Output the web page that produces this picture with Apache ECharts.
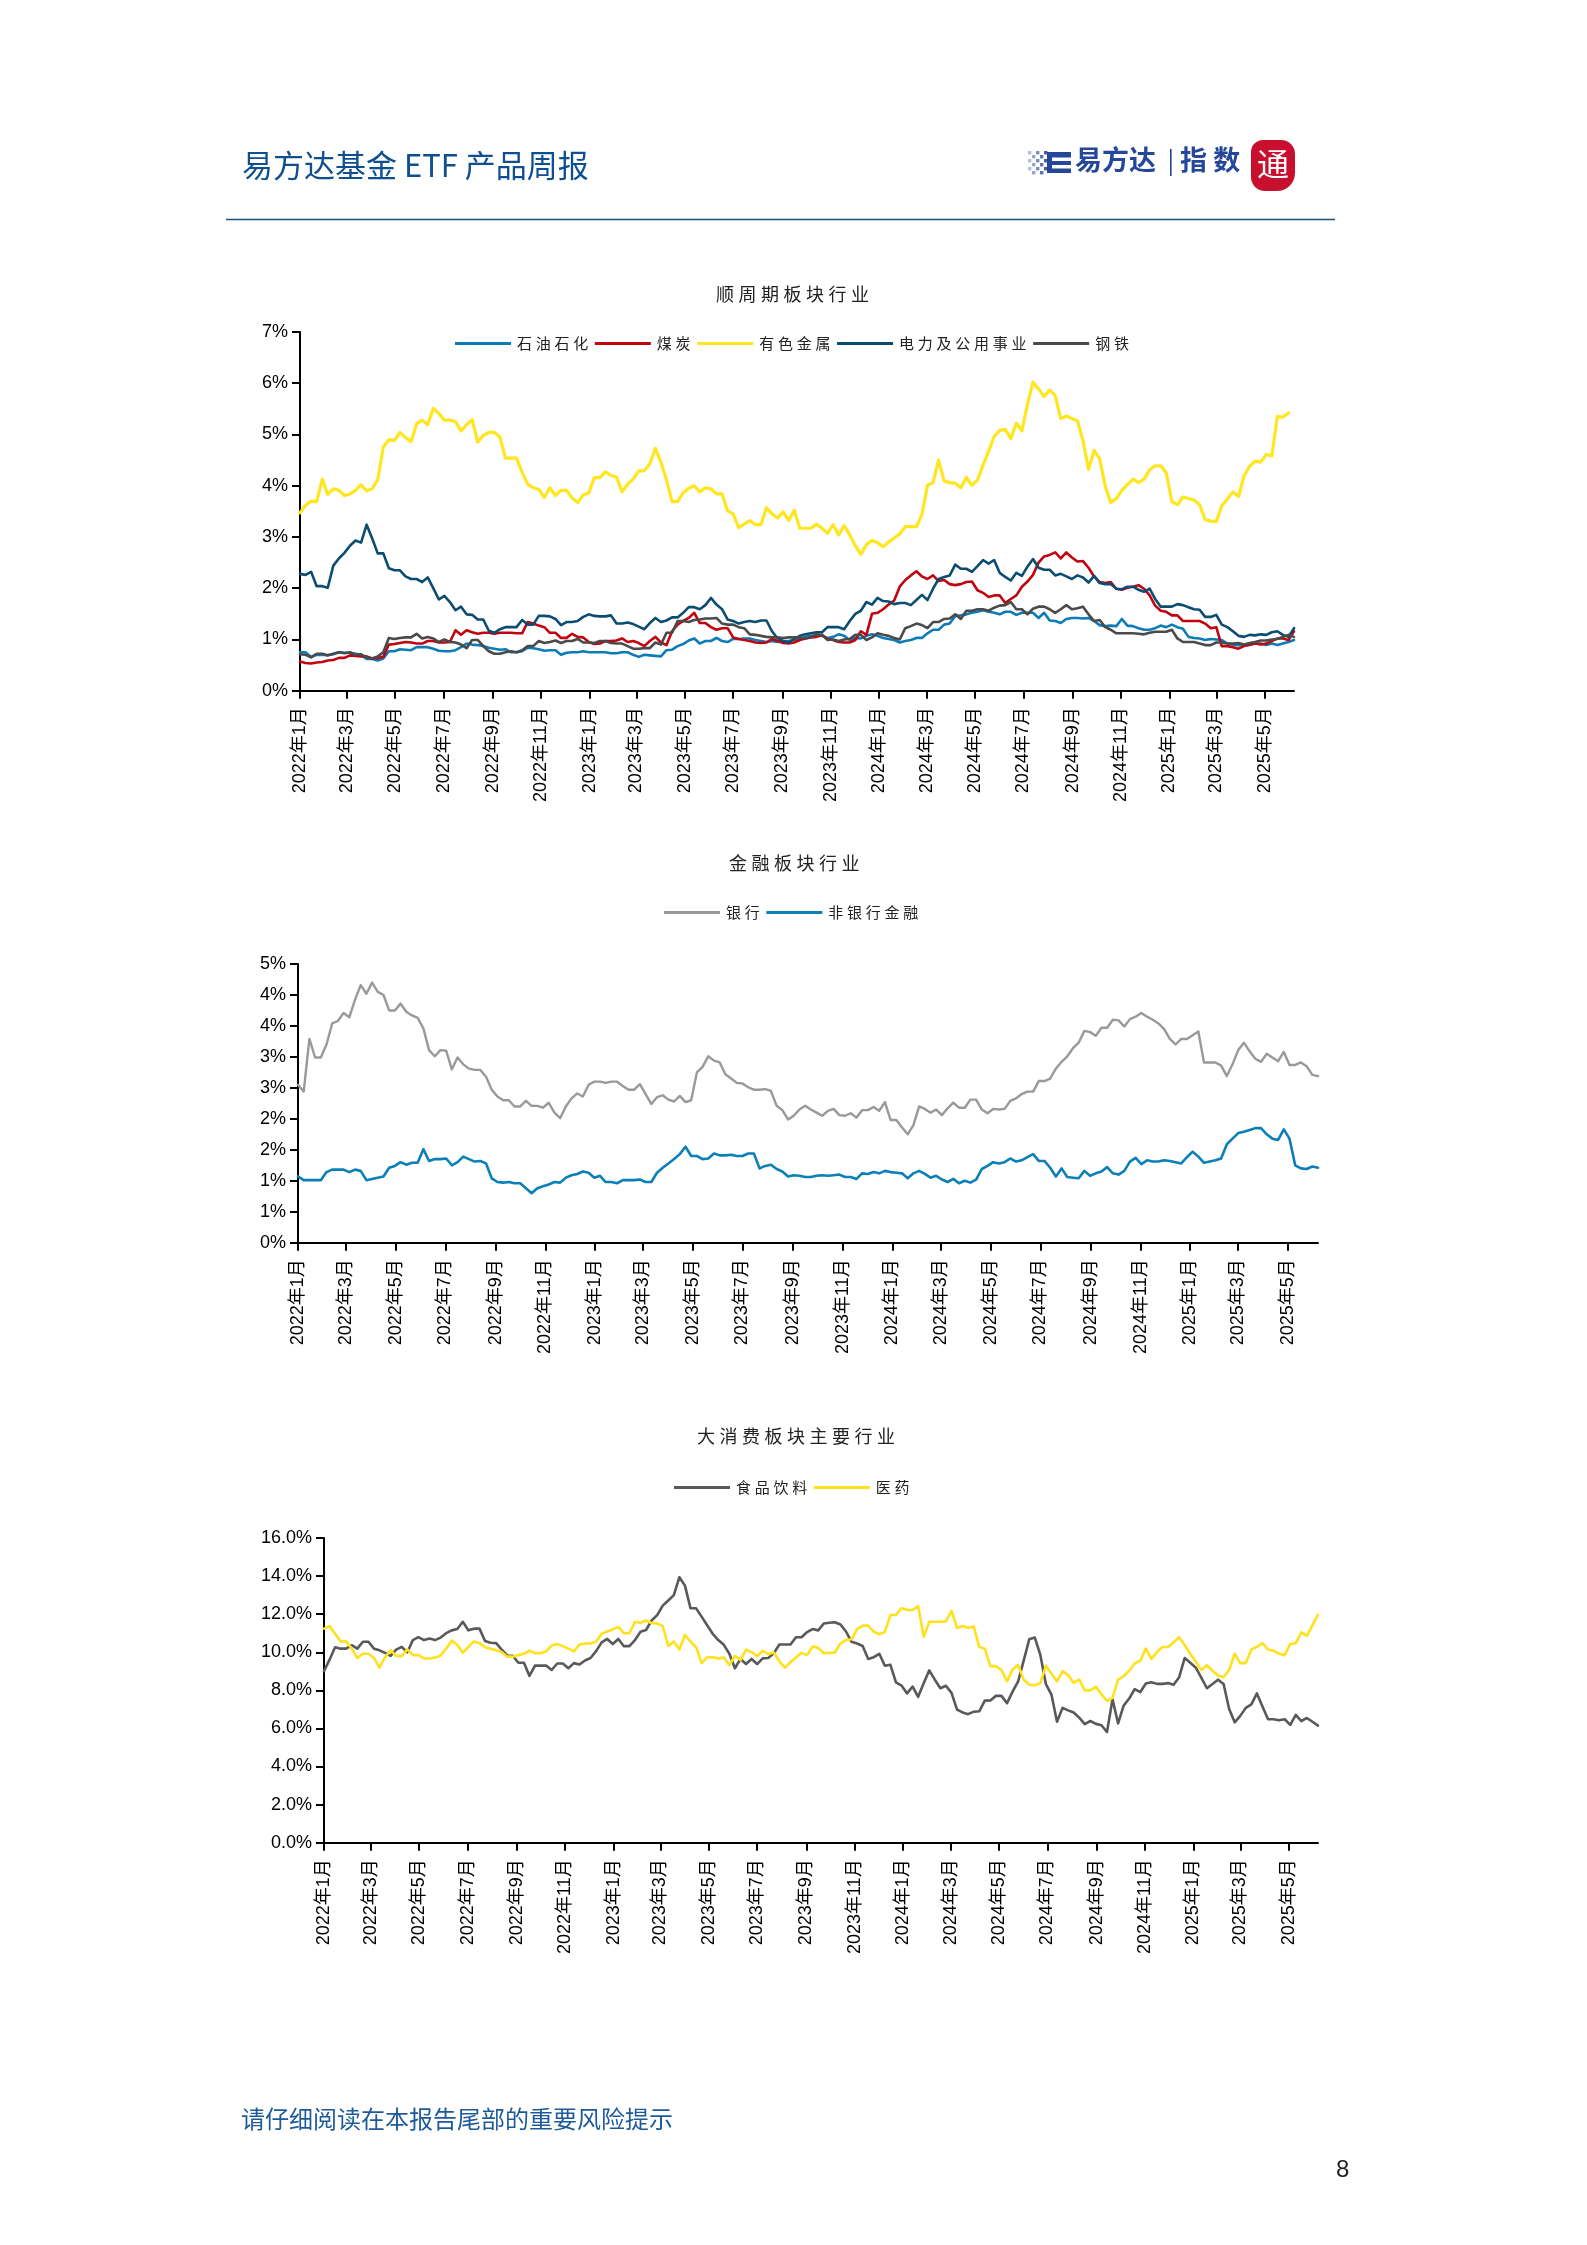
<!DOCTYPE html>
<html>
<head>
<meta charset="utf-8">
<style>html,body{margin:0;padding:0;background:#fff}#c{width:1587px;height:2245px}</style>
<script src="https://cdn.jsdelivr.net/npm/echarts@6/dist/echarts.min.js"></script>
</head>
<body>
<div id="c"></div>
<script>
const tickMonths = [[2022,1],[2022,3],[2022,5],[2022,7],[2022,9],[2022,11],[2023,1],[2023,3],[2023,5],[2023,7],[2023,9],[2023,11],[2024,1],[2024,3],[2024,5],[2024,7],[2024,9],[2024,11],[2025,1],[2025,3],[2025,5]];

const oil = [.75,.75,.66,.70,.70,.69,.71,.75,.74,.74,.72,.70,.62,.62,.59,.63,.77,.77,.81,.80,.79,.85,.85,.85,.82,.78,.77,.77,.79,.85,.92,.90,.89,.87,.84,.82,.80,.81,.75,.75,.77,.84,.83,.81,.78,.79,.79,.70,.74,.75,.75,.77,.75,.75,.75,.75,.73,.73,.75,.75,.70,.66,.70,.69,.68,.67,.79,.80,.87,.91,.98,1.02,.92,.97,.97,1.03,.97,.95,1.01,1.01,
1.02,1.02,.99,.97,.95,.97,.95,.97,.97,.99,1.02,1.05,1.07,1.07,1.07,1.03,1.05,1.10,1.07,.99,1.03,1.02,1.07,1.10,1.07,1.03,1.01,.99,.94,.97,.99,1.03,1.03,1.12,1.19,1.19,1.29,1.31,1.46,1.47,1.49,1.52,1.54,1.57,1.54,1.52,1.49,1.54,1.54,1.48,1.52,1.52,1.52,1.42,1.52,1.37,1.36,1.32,1.40,1.42,1.42,1.41,1.42,1.36,1.28,1.26,1.27,1.26,1.40,1.27,1.26,1.22,1.19,1.19,1.22,1.27,1.24,1.29,1.24,1.21,1.05,1.03,1.02,.99,1.01,1.00,.99,.92,.90,.89,.89,.89,.92,.92,.89,.92,.89,.92,.95,.99];

const coal = [.57,.54,.53,.55,.56,.59,.60,.64,.64,.69,.68,.67,.67,.63,.64,.66,.90,.91,.93,.95,.94,.92,.92,.97,.97,.94,.94,.95,1.18,1.09,1.18,1.14,1.11,1.13,1.13,1.11,1.13,1.13,1.13,1.12,1.12,1.34,1.31,1.27,1.24,1.13,1.13,1.03,1.03,1.11,1.05,1.04,.95,.91,.92,.97,.97,.98,1.02,.95,.97,.93,.87,.97,1.05,.94,.89,1.16,1.29,1.36,1.42,1.52,1.32,1.32,1.24,1.19,1.22,1.22,1.04,1.01,
.99,.97,.94,.93,.94,1.01,.97,.93,.92,.94,.99,1.02,1.04,1.05,1.09,1.01,.99,.95,.94,.94,.99,1.16,1.09,1.50,1.52,1.59,1.68,1.76,2.03,2.16,2.25,2.33,2.23,2.18,2.25,2.14,2.16,2.08,2.06,2.08,2.12,2.13,1.96,1.91,1.83,1.86,1.86,1.71,1.79,1.86,2.03,2.13,2.26,2.50,2.62,2.65,2.70,2.58,2.70,2.60,2.52,2.53,2.40,2.23,2.12,2.10,2.12,1.99,1.97,2.01,2.03,2.06,1.99,1.86,1.66,1.56,1.54,1.47,1.47,1.36,1.36,1.36,1.36,1.31,1.22,1.24,.87,.87,.85,.82,.87,.90,.92,.90,.92,.97,1.02,1.02,.99,1.16];

const metals = [3.47,3.62,3.70,3.69,4.13,3.83,3.94,3.91,3.81,3.84,3.91,4.02,3.90,3.94,4.12,4.75,4.90,4.88,5.04,4.94,4.86,5.21,5.28,5.19,5.51,5.41,5.28,5.28,5.25,5.07,5.19,5.29,4.85,4.98,5.04,5.04,4.95,4.54,4.54,4.54,4.26,4.03,3.96,3.93,3.77,3.96,3.81,3.91,3.91,3.76,3.67,3.82,3.86,4.16,4.16,4.27,4.20,4.17,3.88,4.03,4.13,4.29,4.29,4.43,4.73,4.46,4.11,3.69,3.69,3.86,3.95,4.00,3.88,3.96,3.94,3.84,3.84,3.51,3.45,3.18,
3.25,3.32,3.24,3.24,3.57,3.45,3.37,3.49,3.32,3.52,3.17,3.17,3.17,3.25,3.17,3.07,3.24,3.04,3.22,3.04,2.83,2.66,2.85,2.93,2.89,2.81,2.90,2.98,3.06,3.20,3.20,3.20,3.44,4.01,4.06,4.50,4.09,4.06,4.05,3.96,4.16,4.01,4.11,4.40,4.67,4.96,5.08,5.10,4.92,5.22,5.07,5.59,6.02,5.89,5.74,5.87,5.76,5.31,5.36,5.31,5.27,4.88,4.32,4.69,4.53,3.99,3.67,3.75,3.91,4.02,4.13,4.06,4.13,4.31,4.39,4.39,4.25,3.69,3.63,3.78,3.75,3.72,3.63,3.34,3.31,3.30,3.61,3.74,3.88,3.79,4.19,4.38,4.48,4.46,4.61,4.58,5.35,5.34,5.42,null];

const power = [2.28,2.26,2.32,2.04,2.04,2.01,2.44,2.58,2.69,2.83,2.93,2.89,3.24,2.97,2.68,2.68,2.39,2.35,2.35,2.23,2.18,2.18,2.12,2.21,2.00,1.78,1.85,1.73,1.57,1.64,1.49,1.48,1.39,1.39,1.17,1.13,1.20,1.24,1.24,1.24,1.38,1.29,1.29,1.46,1.46,1.45,1.40,1.28,1.34,1.34,1.36,1.44,1.49,1.46,1.45,1.45,1.47,1.31,1.31,1.33,1.30,1.25,1.20,1.32,1.42,1.34,1.37,1.43,1.43,1.52,1.63,1.63,1.59,1.67,1.81,1.68,1.59,1.39,1.36,1.31,
1.34,1.36,1.34,1.37,1.37,1.16,1.02,.97,.94,1.01,1.07,1.10,1.12,1.14,1.14,1.24,1.24,1.24,1.20,1.36,1.50,1.56,1.73,1.68,1.81,1.75,1.74,1.69,1.71,1.71,1.67,1.77,1.87,1.77,1.99,2.18,2.22,2.25,2.46,2.38,2.38,2.32,2.43,2.55,2.48,2.55,2.30,2.22,2.15,2.30,2.24,2.42,2.57,2.40,2.36,2.36,2.25,2.28,2.23,2.18,2.25,2.21,2.11,2.24,2.10,2.08,2.08,1.99,1.98,2.03,2.03,1.97,1.93,1.99,1.79,1.64,1.64,1.64,1.69,1.67,1.63,1.59,1.58,1.44,1.44,1.48,1.29,1.24,1.16,1.07,1.05,1.09,1.08,1.10,1.09,1.14,1.16,1.09,1.05,1.22];

const steel = [.71,.70,.65,.72,.72,.69,.72,.75,.73,.75,.70,.71,.65,.63,.67,.75,1.03,1.01,1.03,1.04,1.04,1.11,1.02,1.05,1.02,.95,1.00,.95,.94,.90,.83,.99,.99,.87,.77,.72,.72,.75,.77,.75,.79,.87,.87,.97,.93,.95,.98,.93,.97,.97,1.01,.94,.94,.93,.97,.97,.93,.92,.92,.87,.82,.82,.83,.83,.94,.90,1.13,1.13,1.36,1.36,1.34,1.38,1.39,1.41,1.41,1.42,1.31,1.29,1.29,1.24,
1.22,1.10,1.09,1.07,1.05,1.04,1.04,1.03,1.04,1.04,1.04,1.02,1.05,1.10,1.09,.99,1.00,.97,1.00,1.01,1.09,1.09,.99,1.04,1.12,1.09,1.07,1.03,1.00,1.22,1.26,1.31,1.28,1.22,1.34,1.34,1.40,1.41,1.49,1.40,1.56,1.56,1.59,1.59,1.56,1.62,1.66,1.67,1.73,1.59,1.59,1.49,1.60,1.64,1.64,1.59,1.52,1.59,1.67,1.59,1.61,1.64,1.49,1.36,1.38,1.24,1.19,1.12,1.12,1.12,1.12,1.11,1.10,1.13,1.15,1.15,1.15,1.19,1.02,.95,.95,.95,.92,.89,.89,.94,.94,.92,.92,.93,.90,.93,.95,.98,.98,1.00,1.01,1.05,1.09,1.05];

const bank = [2.55,2.44,3.29,2.99,2.99,3.20,3.54,3.58,3.71,3.64,3.92,4.16,4.02,4.20,4.05,4.00,3.75,3.75,3.86,3.73,3.67,3.63,3.46,3.11,3.01,3.11,3.10,2.80,2.99,2.88,2.81,2.79,2.79,2.68,2.47,2.36,2.30,2.30,2.20,2.20,2.29,2.21,2.21,2.18,2.26,2.10,2.01,2.20,2.33,2.41,2.36,2.55,2.60,2.60,2.58,2.60,2.60,2.53,2.47,2.47,2.56,2.40,2.24,2.35,2.38,2.31,2.28,2.37,2.27,2.30,2.75,2.84,3.01,2.94,2.91,2.72,2.65,2.58,2.57,2.51,2.47,2.47,2.48,2.45,2.21,
2.14,1.99,2.05,2.15,2.21,2.15,2.10,2.05,2.13,2.16,2.06,2.05,2.09,2.02,2.14,2.14,2.19,2.13,2.27,1.98,1.98,1.86,1.75,1.90,2.20,2.16,2.10,2.15,2.06,2.17,2.26,2.18,2.18,2.31,2.31,2.15,2.09,2.16,2.15,2.16,2.29,2.33,2.40,2.44,2.44,2.61,2.61,2.65,2.81,2.92,3.01,3.14,3.23,3.42,3.40,3.34,3.47,3.47,3.60,3.59,3.49,3.61,3.65,3.71,3.65,3.60,3.54,3.45,3.29,3.20,3.29,3.29,3.35,3.41,2.91,2.91,2.91,2.86,2.69,2.88,3.11,3.23,3.09,2.97,2.92,3.05,2.99,2.93,3.08,2.87,2.87,2.91,2.85,2.71,2.69];

const nonBank = [1.07,1.01,1.01,1.01,1.01,1.14,1.18,1.18,1.18,1.14,1.18,1.16,1.01,1.03,1.05,1.07,1.21,1.24,1.30,1.26,1.29,1.29,1.51,1.32,1.35,1.35,1.36,1.25,1.30,1.39,1.35,1.31,1.32,1.28,1.04,.98,.97,.98,.96,.96,.88,.80,.88,.91,.94,.98,.97,1.05,1.09,1.11,1.15,1.13,1.05,1.08,.98,.98,.96,1.01,1.01,1.01,1.02,.98,.98,1.13,1.21,1.28,1.35,1.43,1.55,1.40,1.40,1.35,1.36,1.44,1.41,1.41,1.42,1.40,1.40,1.44,1.44,1.20,1.24,1.26,1.19,
1.15,1.07,1.09,1.08,1.06,1.06,1.08,1.09,1.08,1.09,1.10,1.06,1.06,1.03,1.12,1.11,1.14,1.12,1.16,1.14,1.13,1.12,1.04,1.12,1.16,1.11,1.05,1.08,1.02,.98,1.03,.96,1.00,.97,1.02,1.19,1.24,1.30,1.28,1.30,1.36,1.31,1.33,1.38,1.43,1.32,1.32,1.21,1.07,1.20,1.06,1.05,1.04,1.16,1.08,1.12,1.15,1.22,1.12,1.10,1.16,1.31,1.37,1.27,1.33,1.31,1.31,1.33,1.32,1.30,1.28,1.38,1.47,1.39,1.29,1.31,1.33,1.36,1.59,1.68,1.77,1.79,1.82,1.85,1.85,1.75,1.68,1.66,1.83,1.68,1.25,1.20,1.19,1.23,1.21];

const food = [9.01,9.61,10.26,10.19,10.19,10.37,10.19,10.55,10.55,10.19,10.10,9.97,9.81,10.14,10.28,9.99,10.64,10.79,10.64,10.72,10.64,10.77,11.00,11.15,11.22,11.60,11.15,11.24,11.24,10.59,10.50,10.48,10.14,9.83,9.81,9.45,9.45,8.76,9.30,9.30,9.30,9.07,9.41,9.41,9.16,9.43,9.36,9.57,9.70,10.06,10.52,10.70,10.43,10.70,10.32,10.32,10.64,11.08,11.17,11.67,11.95,12.45,12.72,13.0,13.94,13.5,12.31,12.31,11.87,11.42,10.97,10.64,10.39,9.92,9.16,9.65,9.38,9.65,9.38,9.68,9.70,9.95,10.41,
10.41,10.41,10.79,10.79,11.06,11.22,11.15,11.51,11.55,11.58,11.46,11.09,10.55,10.46,10.33,9.65,9.74,9.92,9.29,9.34,8.42,8.25,7.84,8.20,7.66,8.38,9.05,8.56,8.11,8.24,7.87,6.99,6.84,6.75,6.88,6.90,7.46,7.47,7.71,7.71,7.33,7.93,8.47,9.56,10.68,10.77,9.86,8.33,7.78,6.35,7.08,6.95,6.84,6.57,6.23,6.39,6.24,6.17,5.81,7.53,6.26,7.20,7.57,8.07,7.91,8.36,8.43,8.34,8.34,8.38,8.29,8.69,9.70,9.45,9.19,8.65,8.11,8.33,8.56,8.33,7.02,6.32,6.66,7.08,7.26,7.84,7.15,6.48,6.48,6.43,6.48,6.19,6.71,6.39,6.55,6.35,6.15];

const pharma = [11.24,11.37,10.97,10.57,10.57,10.19,9.70,9.92,9.92,9.70,9.19,9.74,10.10,9.81,9.79,10.15,9.85,9.85,9.68,9.67,9.72,9.83,10.19,10.61,10.39,9.97,10.28,10.57,10.48,10.26,10.19,10.10,10.01,9.77,9.77,9.85,9.92,10.08,9.95,9.95,10.05,10.35,10.44,10.32,10.19,10.05,10.41,10.46,10.46,10.55,10.97,11.09,11.20,11.33,11.00,11.00,11.60,11.55,11.67,11.53,11.51,11.37,10.33,10.57,10.14,10.91,10.55,10.28,9.43,9.74,9.74,9.68,9.72,9.32,9.81,9.59,10.14,10.01,9.79,10.08,9.90,9.99,9.52,
9.19,9.47,9.72,9.97,9.85,10.30,10.23,9.95,9.97,9.99,10.46,10.64,10.68,11.22,11.40,11.40,11.08,10.95,11.06,11.96,11.96,12.31,12.22,12.22,12.42,10.81,11.60,11.60,11.60,11.62,12.18,11.28,11.38,11.28,11.35,10.28,10.19,9.27,9.27,9.07,8.47,9.10,9.34,8.56,8.29,8.27,8.38,9.30,8.87,8.47,9.01,8.80,8.40,8.56,8.00,8.00,8.20,7.80,7.44,7.60,8.56,8.74,9.03,9.41,9.56,10.19,9.65,10.01,10.28,10.28,10.53,10.79,10.37,9.92,9.50,9.07,9.32,9.03,8.78,8.69,9.07,9.92,9.43,9.43,10.15,10.28,10.48,10.14,10.08,9.92,9.85,10.43,10.48,11.04,10.86,11.42,11.96];

/* weekly dates as timestamps on a date-scaled axis */
const DAY = 86400000, startDate = Date.UTC(2022,0,1);
const xMax = startDate + 179*7*DAY;
const pairs = arr => arr.map((v,i)=>[startDate + i*7*DAY, v]);
const tickVals = tickMonths.map(([y,m])=>Date.UTC(y,m-1,1));
const tickLabel = v => { const d = new Date(v); return d.getUTCFullYear()+'年'+(d.getUTCMonth()+1)+'月'; };
const LATIN = '"Liberation Sans","Noto Sans CJK SC",sans-serif';
const CJK = '"Noto Sans CJK SC",sans-serif';
const spaced = s => [...s].join('\u2005');

const panels = [
 {left:300,top:332,width:994,height:358.7,max:7,interval:1,fmt:v=>v.toFixed(0)+'%'},
 {left:298,top:964,width:1020,height:278.7,max:4.5,interval:.5,fmt:v=>Math.round(v+1e-9)+'%'},
 {left:324,top:1538,width:994,height:304.7,max:16,interval:2,fmt:v=>v.toFixed(1)+'%'}
];
const grid=[],xAxis=[],yAxis=[];
panels.forEach((p,i)=>{
  grid.push({left:p.left,top:p.top,width:p.width,height:p.height,containLabel:false});
  xAxis.push({type:'value',gridIndex:i,min:startDate,max:xMax,scale:true,
    splitLine:{show:false},
    axisLine:{show:true,onZero:false,lineStyle:{color:'#000',width:2}},
    axisTick:{show:true,length:8,inside:false,customValues:tickVals,lineStyle:{color:'#000',width:2}},
    axisLabel:{show:true,rotate:90,margin:16.5,customValues:tickVals,formatter:tickLabel,hideOverlap:false,
      fontFamily:LATIN,fontSize:18,color:'#000',showMinLabel:true,showMaxLabel:true}
  });
  yAxis.push({type:'value',gridIndex:i,min:0,max:p.max,interval:p.interval,
    splitLine:{show:false},
    axisLine:{show:true,onZero:false,lineStyle:{color:'#000',width:2}},
    axisTick:{show:true,length:8,inside:false,lineStyle:{color:'#000',width:2}},
    axisLabel:{margin:12,formatter:p.fmt,fontFamily:LATIN,fontSize:18,color:'#000'}
  });
});

const line = (name,data,idx,color,w) => ({name,type:'line',data:pairs(data),xAxisIndex:idx,yAxisIndex:idx,
  showSymbol:false,symbol:'none',smooth:false,animation:false,connectNulls:false,clip:false,
  lineStyle:{color,width:w,cap:'round',join:'round'},itemStyle:{color}});

const series = [
 line('石油石化',oil,0,'#0c7cb8',2.6),
 line('煤炭',coal,0,'#c00510',2.6),
 line('有色金属',metals,0,'#ffe61e',3.2),
 line('电力及公用事业',power,0,'#0b4d70',2.6),
 line('钢铁',steel,0,'#4a4a4a',2.6),
 line('银行',bank,1,'#999999',2.4),
 line('非银行金融',nonBank,1,'#0a7fb8',2.6),
 line('食品饮料',food,2,'#595959',2.6),
 line('医药',pharma,2,'#ffe11e',2.6)
];

const legendCommon = {orient:'horizontal',padding:0,icon:'rect',itemWidth:56,itemHeight:2.8,itemGap:6.6,selectedMode:false,
  formatter:spaced,textStyle:{fontFamily:CJK,fontSize:15,color:'#222',padding:[0,0,0,1]}};
const legend = [
 Object.assign({},legendCommon,{left:455,top:336,data:['石油石化','煤炭','有色金属','电力及公用事业','钢铁']}),
 Object.assign({},legendCommon,{left:664,top:905,data:['银行','非银行金融']}),
 Object.assign({},legendCommon,{left:674,top:1480,data:['食品饮料','医药']})
];

const title = [
 {text:spaced('顺周期板块行业'),left:716,top:285,padding:0,textStyle:{fontFamily:CJK,fontSize:18,fontWeight:'normal',color:'#222'}},
 {text:spaced('金融板块行业'),left:729,top:854,padding:0,textStyle:{fontFamily:CJK,fontSize:18,fontWeight:'normal',color:'#222'}},
 {text:spaced('大消费板块主要行业'),left:697,top:1427,padding:0,textStyle:{fontFamily:CJK,fontSize:18,fontWeight:'normal',color:'#222'}}
];

/* page furniture */
const elements = [
 {type:'text',left:242,top:150,style:{text:'易方达基金 ETF 产品周报',font:'31px "Noto Sans CJK SC",sans-serif',fill:'#0f4f8f'}},
 {type:'line',shape:{x1:226,y1:219.5,x2:1335,y2:219.5},style:{stroke:'#1a5080',lineWidth:1.4}},
 {type:'text',left:1075,top:146,style:{text:'易方达',font:'bold 27px "Noto Sans CJK SC",sans-serif',fill:'#25479a'}},
 {type:'rect',shape:{x:1170,y:149,width:1.6,height:27},style:{fill:'#25479a'}},
 {type:'text',left:1180,top:146,style:{text:'指 数',font:'bold 27px "Noto Sans CJK SC",sans-serif',fill:'#25479a'}},
 {type:'rect',shape:{x:1251,y:140,width:44,height:51,r:[12,14,18,14]},style:{fill:'#c8102e'}},
 {type:'text',left:1257,top:148,style:{text:'通',font:'32px "Noto Sans CJK SC",sans-serif',fill:'#fff'}},
 {type:'rect',shape:{x:1047,y:152,width:24,height:21},style:{fill:'#25479a'}},
 {type:'rect',shape:{x:1052,y:157.5,width:19,height:3.5},style:{fill:'#fff'}},
 {type:'rect',shape:{x:1052,y:165,width:19,height:3.5},style:{fill:'#fff'}},
 {type:'text',left:241,top:2107,style:{text:'请仔细阅读在本报告尾部的重要风险提示',font:'24px "Noto Sans CJK SC",sans-serif',fill:'#1d5a9a'}},
 {type:'text',left:1336,top:2158,style:{text:'8',font:'24px "Liberation Sans",sans-serif',fill:'#222'}}
];
for(let c=0;c<5;c++){for(let r=0;r<6;r++){ if((c+r)%2===0){
  elements.push({type:'rect',shape:{x:1028+c*4,y:151+r*4,width:3.4,height:3.4},style:{fill:'#25479a',opacity:0.35+c*0.13}});
}}}

const chart = echarts.init(document.getElementById('c'),null,{width:1587,height:2245});
chart.setOption({backgroundColor:'#fff',animation:false,title,legend,grid,xAxis,yAxis,series,graphic:{elements}});
</script>
</body>
</html>
